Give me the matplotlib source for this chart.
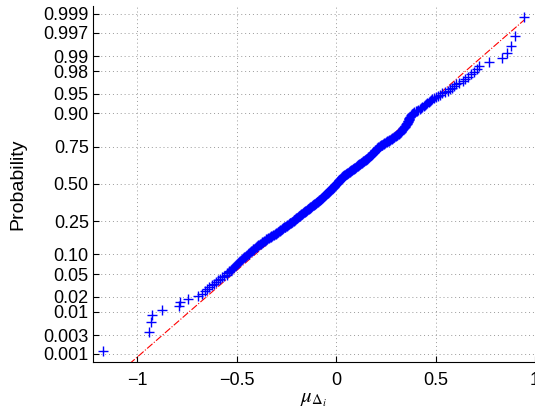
import numpy as np
import matplotlib
matplotlib.use("Agg")
import matplotlib.pyplot as plt
from statistics import NormalDist

# sorted sample values (lowest to highest)
lower_tail = [-1.173, -0.939, -0.928, -0.924, -0.876, -0.790, -0.784, -0.742, -0.694, -0.672,
              -0.661, -0.648, -0.637, -0.625, -0.616, -0.604, -0.593, -0.584, -0.572, -0.561,
              -0.550, -0.546, -0.540, -0.536, -0.529, -0.524, -0.520, -0.514, -0.508, -0.505,
              -0.499, -0.493, -0.489, -0.485, -0.478, -0.474, -0.470, -0.463, -0.458, -0.455,
              -0.449, -0.444]
lower_body = [-0.440, -0.436, -0.432, -0.427, -0.424, -0.419, -0.416, -0.411, -0.407, -0.403,
              -0.399, -0.395, -0.391, -0.386, -0.383, -0.378, -0.374, -0.370, -0.366, -0.362,
              -0.358, -0.353, -0.350, -0.345, -0.341, -0.337, -0.333, -0.329, -0.325, -0.320,
              -0.317, -0.312, -0.308, -0.304, -0.300,
              -0.297, -0.294, -0.290, -0.287, -0.284, -0.281, -0.278, -0.274, -0.271, -0.268,
              -0.265, -0.262, -0.258, -0.255, -0.252, -0.249, -0.246, -0.242, -0.239, -0.236,
              -0.233, -0.230, -0.226, -0.223, -0.220, -0.217, -0.214]
mid_low = [-0.211, -0.209, -0.206, -0.204, -0.201, -0.199, -0.196, -0.194, -0.191, -0.189,
           -0.186, -0.184, -0.182, -0.179, -0.177, -0.174, -0.172, -0.169, -0.167, -0.164,
           -0.162, -0.159, -0.157, -0.155, -0.152, -0.150, -0.147, -0.145,
           -0.143, -0.140, -0.138, -0.136, -0.133, -0.131, -0.129, -0.126, -0.124, -0.122,
           -0.119, -0.117, -0.115, -0.112, -0.110, -0.108, -0.106, -0.103, -0.101, -0.099,
           -0.096, -0.094, -0.092, -0.089, -0.087, -0.085, -0.082, -0.080,
           -0.078, -0.077, -0.075, -0.073, -0.071, -0.070, -0.068, -0.066, -0.064, -0.063,
           -0.061, -0.059, -0.057, -0.056, -0.054, -0.052, -0.050, -0.049, -0.047, -0.045,
           -0.043, -0.042, -0.040, -0.038, -0.036, -0.035, -0.033, -0.031, -0.029, -0.028,
           -0.026, -0.024, -0.022, -0.021, -0.019, -0.017, -0.015, -0.014, -0.012, -0.010,
           -0.008, -0.007, -0.005, -0.003, -0.001, 0.000, 0.002]
mid_high = [0.004, 0.005, 0.007, 0.008, 0.010, 0.011, 0.013, 0.014, 0.016, 0.017,
            0.019, 0.020, 0.022, 0.023, 0.025, 0.026, 0.028, 0.029, 0.031, 0.032,
            0.034, 0.035,
            0.037, 0.040, 0.042, 0.044, 0.047, 0.049, 0.051, 0.054, 0.056, 0.058,
            0.061, 0.063, 0.065, 0.068, 0.070, 0.072, 0.075, 0.077, 0.079, 0.081,
            0.084, 0.086, 0.088, 0.091, 0.093,
            0.095, 0.098, 0.100, 0.103, 0.105, 0.108, 0.110, 0.112, 0.115, 0.117,
            0.120, 0.122, 0.124, 0.127, 0.129, 0.132, 0.134, 0.137, 0.139, 0.141,
            0.144, 0.146, 0.149, 0.151, 0.153, 0.156, 0.158, 0.161, 0.163, 0.166,
            0.168,
            0.170, 0.172, 0.174, 0.176, 0.177, 0.179, 0.181, 0.183, 0.185, 0.187,
            0.189, 0.191, 0.192, 0.194, 0.196, 0.198, 0.200, 0.202, 0.204, 0.206,
            0.207, 0.209, 0.211, 0.213, 0.215]
upper_body = [0.219, 0.222, 0.226, 0.229, 0.233, 0.236, 0.240, 0.243, 0.247, 0.250,
              0.254, 0.257, 0.261, 0.264, 0.268,
              0.272, 0.275, 0.279, 0.282, 0.286, 0.290, 0.293, 0.297, 0.300, 0.304,
              0.308, 0.311, 0.315,
              0.317, 0.319, 0.321, 0.324, 0.326, 0.328, 0.330, 0.332, 0.334,
              0.336, 0.339, 0.341, 0.344, 0.346, 0.348, 0.351, 0.353, 0.356, 0.358,
              0.359, 0.361, 0.362, 0.364, 0.365, 0.366, 0.368, 0.369,
              0.371, 0.374, 0.376, 0.379, 0.381, 0.384, 0.386,
              0.393, 0.400, 0.406, 0.413, 0.420, 0.427, 0.433, 0.440,
              0.446, 0.453, 0.459, 0.465, 0.472, 0.478, 0.484,
              0.493, 0.502, 0.512, 0.521, 0.530]
upper_tail = [0.548, 0.563, 0.575, 0.585, 0.595, 0.605, 0.620, 0.638, 0.650, 0.662,
              0.680, 0.695, 0.707, 0.717, 0.767, 0.835, 0.861, 0.879, 0.901, 0.947]

prob_ticks = [0.001, 0.003, 0.01, 0.02, 0.05, 0.10, 0.25, 0.50, 0.75, 0.90, 0.95, 0.98, 0.99, 0.997, 0.999]
prob_labels = ['0.001', '0.003', '0.01', '0.02', '0.05', '0.10', '0.25', '0.50',
               '0.75', '0.90', '0.95', '0.98', '0.99', '0.997', '0.999']
x_ticks = [-1, -0.5, 0, 0.5, 1]
x_labels = ['\u22121', '\u22120.5', '0', '0.5', '1']

data = np.sort(np.array(lower_tail + lower_body + mid_low + mid_high + upper_body + upper_tail))
n = len(data)
nd = NormalDist()
ppf = np.vectorize(nd.inv_cdf)

z = ppf((np.arange(1, n + 1) - 0.5) / n)

# reference line through the quartiles (as normplot does)
q1, q3 = np.percentile(data, [25, 75])
z1, z3 = nd.inv_cdf(0.25), nd.inv_cdf(0.75)
slope = (z3 - z1) / (q3 - q1)
xl = np.array([data.min(), data.max()])
yl = z1 + slope * (xl - q1)

plt.rcParams['font.family'] = ['Liberation Sans', 'DejaVu Sans']
plt.rcParams['mathtext.fontset'] = 'stix'

fig = plt.figure(figsize=(5.35, 4.13), dpi=100)
ax = fig.add_axes([0.1738, 0.1235, 0.8262, 0.862])

ax.plot(data, z, '+', color='blue', ms=7, mew=1.0, zorder=3)
ax.plot(xl, yl, '-.', color='red', lw=0.8, zorder=2)

ax.set_xlim(-1.222, 1.0)
ax.set_ylim(nd.inv_cdf(0.25 / n), nd.inv_cdf(1 - 0.25 / n))
ax.set_yticks(ppf(np.array(prob_ticks)))
ax.set_yticklabels(prob_labels)
ax.set_xticks(x_ticks)
ax.set_xticklabels(x_labels)
ax.tick_params(direction='in', length=4, width=0.8, labelsize=13)
ax.tick_params(axis='x', pad=7)
ax.tick_params(axis='y', pad=3)

ax.grid(True, linestyle=(0, (1, 3)), color='0.6', lw=0.7)
ax.set_axisbelow(True)
for s in ['top', 'right']:
    ax.spines[s].set_visible(False)
for s in ['left', 'bottom']:
    ax.spines[s].set_linewidth(0.8)

ax.set_ylabel('Probability', fontsize=14, labelpad=12)
ax.set_xlabel(r'$\mu_{\Delta_i}$', fontsize=15, labelpad=1)

fig.savefig('out.png', dpi=100)
